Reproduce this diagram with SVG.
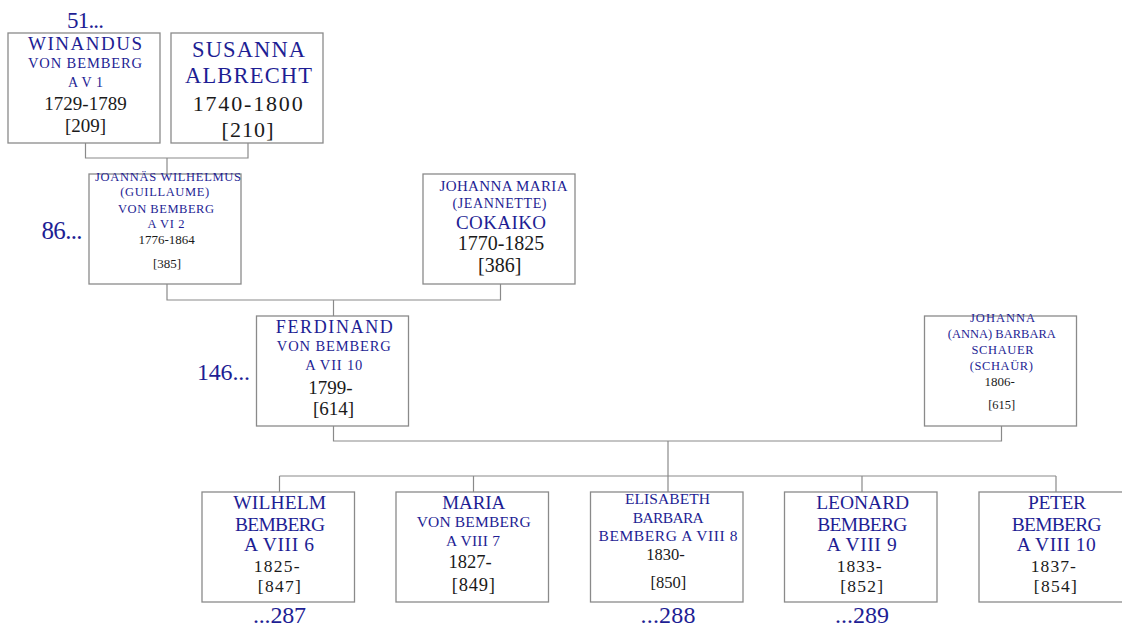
<svg xmlns="http://www.w3.org/2000/svg" width="1122" height="626" viewBox="0 0 1122 626">
<style>
  .box { fill: #ffffff; stroke: #8a8a8a; stroke-width: 1.3; }
  .conn { fill: none; stroke: #8a8a8a; stroke-width: 1.2; }
  text { font-family: "Liberation Serif", "DejaVu Serif", serif; text-anchor: middle; }
  .n { fill: #1e1e94; }
  .d { fill: #1a1a1a; }
  .ref { fill: #1e1e94; }
</style>
<rect width="1122" height="626" fill="#ffffff"/>

<g id="connectors">
  <path class="conn" d="M85.5,143 V158 H248 V143"/>
  <path class="conn" d="M167,158 V174"/>
  <path class="conn" d="M167,284 V300 H500.5 V284"/>
  <path class="conn" d="M333.5,300 V316"/>
  <path class="conn" d="M333.5,426 V441 H1001.5 V426"/>
  <path class="conn" d="M668,441 V476"/>
  <path class="conn" d="M279.5,476 H1056"/>
  <path class="conn" d="M279.5,476 V492 M473.5,476 V492 M668,476 V492 M862,476 V492 M1056,476 V492"/>
</g>

<g id="ref-51"><text class="ref" x="85.5" y="28" font-size="23" textLength="37">51...</text></g>
<g id="ref-86"><text class="ref" x="62" y="239" font-size="25" textLength="41">86...</text></g>
<g id="ref-146"><text class="ref" x="223.5" y="380" font-size="24" textLength="53">146...</text></g>
<g id="ref-287"><text class="ref" x="279.5" y="623" font-size="24" textLength="53">...287</text></g>
<g id="ref-288"><text class="ref" x="668" y="623" font-size="24" textLength="55">...288</text></g>
<g id="ref-289"><text class="ref" x="862" y="623" font-size="24" textLength="54">...289</text></g>

<g id="node-209">
  <rect class="box" x="8" y="33" width="152" height="110"/>
  <text class="n" x="85" y="50" font-size="19" textLength="114">WINANDUS</text>
  <text class="n" x="85" y="68.3" font-size="14.5" textLength="114">VON BEMBERG</text>
  <text class="n" x="85.5" y="87.3" font-size="14" textLength="35">A V 1</text>
  <text class="d" x="85.5" y="110" font-size="19">1729-1789</text>
  <text class="d" x="85.5" y="132" font-size="19">[209]</text>
</g>

<g id="node-210">
  <rect class="box" x="171" y="33" width="152" height="110"/>
  <text class="n" x="248.5" y="57.3" font-size="22.5" textLength="113">SUSANNA</text>
  <text class="n" x="248.5" y="82.5" font-size="22.5" textLength="127">ALBRECHT</text>
  <text class="d" x="247.7" y="111" font-size="22" textLength="110">1740-1800</text>
  <text class="d" x="247.5" y="136.5" font-size="22" textLength="52">[210]</text>
</g>

<g id="node-385">
  <rect class="box" x="89" y="174" width="152" height="110"/>
  <text class="n" x="168" y="180.7" font-size="12.5" textLength="146">JOANNÄS WILHELMUS</text>
  <text class="n" x="164.7" y="196" font-size="12.5" textLength="89">(GUILLAUME)</text>
  <text class="n" x="166" y="213.3" font-size="12.5" textLength="96">VON BEMBERG</text>
  <text class="n" x="166" y="228.3" font-size="12.5" textLength="37">A VI 2</text>
  <text class="d" x="166.7" y="244.3" font-size="13">1776-1864</text>
  <text class="d" x="167" y="268.3" font-size="13">[385]</text>
</g>

<g id="node-386">
  <rect class="box" x="423" y="174" width="152" height="110"/>
  <text class="n" x="503.5" y="190.7" font-size="15" textLength="128">JOHANNA MARIA</text>
  <text class="n" x="499.5" y="207.7" font-size="14" textLength="94">(JEANNETTE)</text>
  <text class="n" x="501" y="229.3" font-size="19" textLength="90">COKAIKO</text>
  <text class="d" x="501" y="250" font-size="20">1770-1825</text>
  <text class="d" x="499.7" y="272.3" font-size="20">[386]</text>
</g>

<g id="node-614">
  <rect class="box" x="256.5" y="316" width="152" height="110"/>
  <text class="n" x="334.3" y="333.3" font-size="18" textLength="117">FERDINAND</text>
  <text class="n" x="333.8" y="350.7" font-size="14.5" textLength="114">VON BEMBERG</text>
  <text class="n" x="333.7" y="370" font-size="14.5" textLength="57">A VII 10</text>
  <text class="d" x="330.5" y="394.3" font-size="19">1799-</text>
  <text class="d" x="333.5" y="415" font-size="19">[614]</text>
</g>

<g id="node-615">
  <rect class="box" x="924.5" y="316" width="152" height="110"/>
  <text class="n" x="1002.5" y="321.7" font-size="12.5" textLength="65">JOHANNA</text>
  <text class="n" x="1001.8" y="337.7" font-size="12.5" textLength="108">(ANNA) BARBARA</text>
  <text class="n" x="1002.5" y="354.3" font-size="12.5" textLength="62">SCHAUER</text>
  <text class="n" x="1001.3" y="370" font-size="12.5" textLength="63">(SCHAÜR)</text>
  <text class="d" x="999.7" y="385.7" font-size="13">1806-</text>
  <text class="d" x="1001.7" y="409.3" font-size="12.5">[615]</text>
</g>

<g id="node-847">
  <rect class="box" x="202" y="492" width="152.5" height="110"/>
  <text class="n" x="279.7" y="509.3" font-size="19.5" textLength="93">WILHELM</text>
  <text class="n" x="280" y="531" font-size="19.5" textLength="90">BEMBERG</text>
  <text class="n" x="279" y="551" font-size="19.5" textLength="70">A VIII 6</text>
  <text class="d" x="276.7" y="571.5" font-size="17.5" textLength="46">1825-</text>
  <text class="d" x="279.3" y="591.5" font-size="17.5" textLength="43">[847]</text>
</g>

<g id="node-849">
  <rect class="box" x="396" y="492" width="152.5" height="110"/>
  <text class="n" x="473.7" y="509" font-size="19" textLength="63">MARIA</text>
  <text class="n" x="473.7" y="527.3" font-size="15.5" textLength="114">VON BEMBERG</text>
  <text class="n" x="473" y="546" font-size="15.5" textLength="54">A VIII 7</text>
  <text class="d" x="470" y="568.3" font-size="18.5">1827-</text>
  <text class="d" x="473.3" y="591" font-size="18.5" textLength="43">[849]</text>
</g>

<g id="node-850">
  <rect class="box" x="590.5" y="492" width="152.5" height="110"/>
  <text class="n" x="667.5" y="504" font-size="15.5" textLength="85">ELISABETH</text>
  <text class="n" x="668.3" y="522.7" font-size="15.5" textLength="71">BARBARA</text>
  <text class="n" x="668" y="541" font-size="15.5" textLength="139">BEMBERG A VIII 8</text>
  <text class="d" x="665.5" y="560" font-size="16.5">1830-</text>
  <text class="d" x="668.3" y="588.3" font-size="16.5">[850]</text>
</g>

<g id="node-852">
  <rect class="box" x="784.5" y="492" width="152.5" height="110"/>
  <text class="n" x="862.7" y="509.3" font-size="19.5" textLength="93">LEONARD</text>
  <text class="n" x="862.3" y="530.7" font-size="19.5" textLength="90">BEMBERG</text>
  <text class="n" x="861.7" y="551" font-size="19.5" textLength="70">A VIII 9</text>
  <text class="d" x="859.2" y="571.5" font-size="17.5" textLength="45">1833-</text>
  <text class="d" x="861.7" y="591.5" font-size="17.5" textLength="43">[852]</text>
</g>

<g id="node-854">
  <rect class="box" x="979" y="492" width="152.5" height="110"/>
  <text class="n" x="1057" y="509.3" font-size="19.5" textLength="58">PETER</text>
  <text class="n" x="1056.7" y="531" font-size="19.5" textLength="90">BEMBERG</text>
  <text class="n" x="1056.2" y="551" font-size="19.5" textLength="79">A VIII 10</text>
  <text class="d" x="1053.3" y="571.5" font-size="17.5" textLength="45">1837-</text>
  <text class="d" x="1055.3" y="591.5" font-size="17.5" textLength="43">[854]</text>
</g>
</svg>
